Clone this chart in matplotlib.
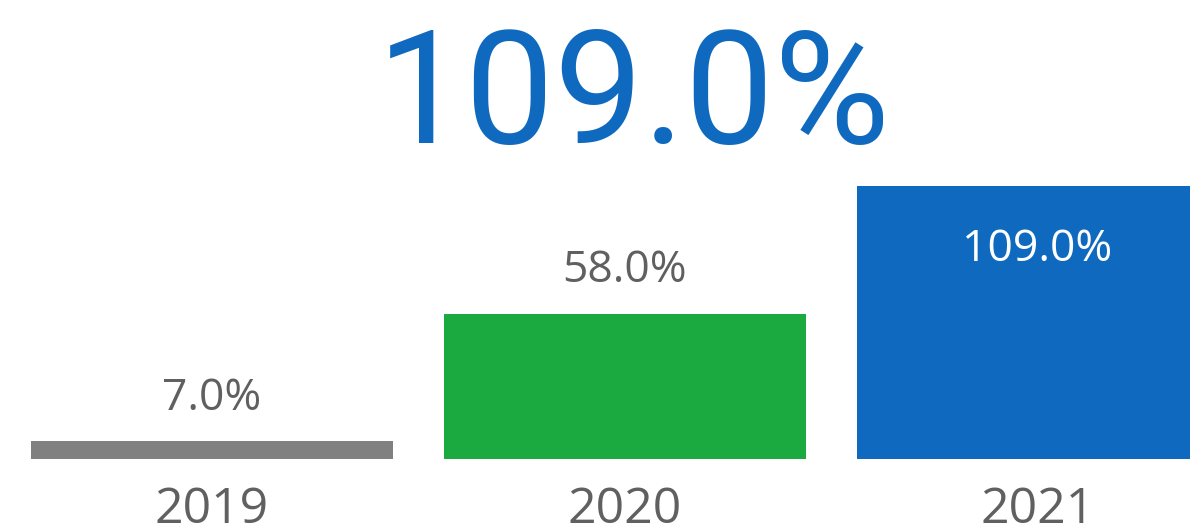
import matplotlib
matplotlib.use("Agg")
import matplotlib.pyplot as plt

years = ["2019", "2020", "2021"]
values = [7.0, 58.0, 109.0]
colors = ["#808080", "#1BAA40", "#0F6ABF"]
headline = "109.0%"

plt.rcParams["font.family"] = ["Open Sans", "DejaVu Sans"]

fig = plt.figure(figsize=(11.9, 5.28), dpi=100)
# axes spans full width; baseline at pixel row 459
ax = fig.add_axes([0, (528 - 459) / 528, 1, 459 / 528])
x = range(len(years))
bars = ax.bar(x, values, width=362 / 413, color=colors)
ax.set_xlim(-211.5 / 413, (1190 - 211.5) / 413)
ax.set_ylim(0, 459 / (273 / 109))

for b, v in zip(bars, values):
    cx = b.get_x() + b.get_width() / 2
    if v == max(values):
        ax.annotate(f"{v:.1f}%", (cx, v), xytext=(0, -54), textcoords="offset points",
                    ha="center", va="baseline", fontsize=32, color="white")
    else:
        ax.annotate(f"{v:.1f}%", (cx, v), xytext=(0, 23), textcoords="offset points",
                    ha="center", va="baseline", fontsize=32, color="#606060")

ax.set_xticks(list(x), years)
ax.tick_params(axis="x", length=0, pad=19, labelsize=36, labelcolor="#606060")
ax.set_yticks([])
for s in ax.spines.values():
    s.set_visible(False)

# big headline number, DIN-like in the original
fig.text(634 / 1190, 1 - 143 / 528, headline, ha="center", va="baseline",
         fontsize=114, color="#0F6ABF", family=["Roboto", "DejaVu Sans"])

fig.savefig("out.png", dpi=100)
